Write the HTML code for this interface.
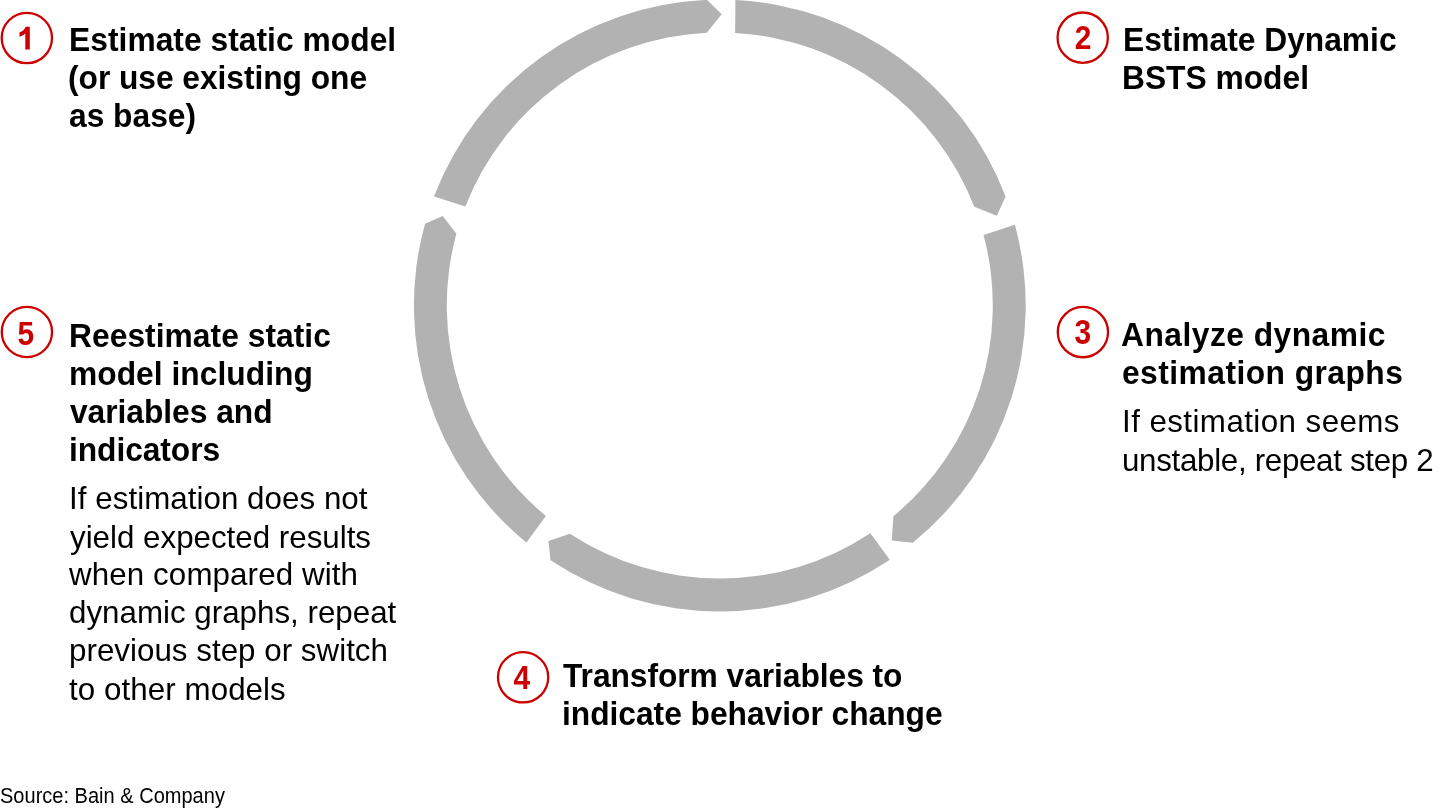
<!DOCTYPE html>
<html><head><meta charset="utf-8"><style>
html,body{margin:0;padding:0;background:#fff;}
body{width:1440px;height:810px;position:relative;overflow:hidden;font-family:"Liberation Sans",sans-serif;color:#000;}
svg{position:absolute;left:0;top:0;will-change:transform;}
.l{position:absolute;line-height:40px;white-space:nowrap;will-change:transform;}
</style></head><body>
<svg width="1440" height="810" viewBox="0 0 1440 810">
<g fill="#B2B2B2">
<path d="M735.37,-0.00 A305.9,305.9 0 0 1 1005.62,196.51 L996.83,215.76 L974.28,206.66 A273.0,273.0 0 0 0 735.16,32.93 Z"/>
<path d="M1014.87,224.84 A305.9,305.9 0 0 1 912.82,542.81 L891.78,540.49 L893.36,516.23 A273.0,273.0 0 0 0 983.54,234.99 Z"/>
<path d="M889.81,559.80 A305.9,305.9 0 0 1 550.54,560.30 L548.43,540.94 L569.92,533.68 A273.0,273.0 0 0 0 870.36,533.23 Z"/>
<path d="M526.47,542.56 A305.9,305.9 0 0 1 425.05,223.65 L442.70,216.00 L456.39,233.77 A273.0,273.0 0 0 0 545.86,515.92 Z"/>
<path d="M433.99,196.48 A305.9,305.9 0 0 1 706.97,-0.13 L721.68,14.31 L706.76,32.81 A273.0,273.0 0 0 0 465.34,206.60 Z"/>
</g>
<g font-family="Liberation Sans" font-weight="bold" font-size="32.5" fill="#CC0000">
<circle cx="26.85" cy="38.05" r="25.15" fill="none" stroke="#CC0000" stroke-width="2.3"/><path fill="#CC0000" d="M25.5,26.8 L29.8,26.8 L29.8,49.5 L25.3,49.5 L25.3,33.4 Q22.8,35.6 19.5,36.8 L19.5,32.6 Q21.8,31.7 23.6,30.0 Q25.0,28.6 25.5,26.8 Z"/>
<circle cx="1082.7" cy="37.65" r="25.15" fill="none" stroke="#CC0000" stroke-width="2.3"/><text transform="translate(1083.0,48.6) scale(0.9200,1)" font-size="32.5" text-anchor="middle" x="0" y="0">2</text>
<circle cx="1082.9" cy="332.1" r="25.15" fill="none" stroke="#CC0000" stroke-width="2.3"/><text transform="translate(1082.9,344.3) scale(0.8667,1)" font-size="34.5" text-anchor="middle" x="0" y="0">3</text>
<circle cx="523.1" cy="677.3" r="25.15" fill="none" stroke="#CC0000" stroke-width="2.3"/><text transform="translate(521.8,689.1) scale(0.9200,1)" font-size="32.5" text-anchor="middle" x="0" y="0">4</text>
<circle cx="26.9" cy="332.0" r="25.15" fill="none" stroke="#CC0000" stroke-width="2.3"/><text transform="translate(25.7,345.1) scale(0.9200,1)" font-size="32.5" text-anchor="middle" x="0" y="0">5</text>
</g>
</svg>
<div class="l" style="left:69.16px;top:19.70px;font-size:31.75px;font-weight:bold;letter-spacing:0.037px;transform:scaleY(1.04);transform-origin:0 19.9px;">Estimate static model</div>
<div class="l" style="left:68.44px;top:57.60px;font-size:31.75px;font-weight:bold;letter-spacing:-0.044px;transform:scaleY(1.04);transform-origin:0 19.9px;">(or use existing one</div>
<div class="l" style="left:69.04px;top:95.80px;font-size:31.75px;font-weight:bold;letter-spacing:-0.011px;transform:scaleY(1.04);transform-origin:0 19.9px;">as base)</div>
<div class="l" style="left:1122.52px;top:19.70px;font-size:31.75px;font-weight:bold;letter-spacing:0.003px;transform:scaleY(1.04);transform-origin:0 19.9px;">Estimate Dynamic</div>
<div class="l" style="left:1122.48px;top:57.70px;font-size:31.75px;font-weight:bold;letter-spacing:-0.003px;transform:scaleY(1.04);transform-origin:0 19.9px;">BSTS model</div>
<div class="l" style="left:1121.45px;top:315.00px;font-size:31.75px;font-weight:bold;letter-spacing:0.485px;transform:scaleY(1.04);transform-origin:0 19.9px;">Analyze dynamic</div>
<div class="l" style="left:1121.88px;top:353.10px;font-size:31.75px;font-weight:bold;letter-spacing:0.463px;transform:scaleY(1.04);transform-origin:0 19.9px;">estimation graphs</div>
<div class="l" style="left:1122.11px;top:402.30px;font-size:31.3px;font-weight:normal;letter-spacing:0.440px;transform:scaleY(1.02);transform-origin:0 19.3px;">If estimation seems</div>
<div class="l" style="left:1122.47px;top:440.60px;font-size:31.3px;font-weight:normal;letter-spacing:-0.304px;transform:scaleY(1.02);transform-origin:0 19.3px;">unstable, repeat step 2</div>
<div class="l" style="left:563.33px;top:655.60px;font-size:31.75px;font-weight:bold;letter-spacing:-0.053px;transform:scaleY(1.04);transform-origin:0 19.9px;">Transform variables to</div>
<div class="l" style="left:562.43px;top:693.70px;font-size:31.75px;font-weight:bold;letter-spacing:-0.023px;transform:scaleY(1.04);transform-origin:0 19.9px;">indicate behavior change</div>
<div class="l" style="left:68.50px;top:315.60px;font-size:31.75px;font-weight:bold;letter-spacing:0.045px;transform:scaleY(1.04);transform-origin:0 19.9px;">Reestimate static</div>
<div class="l" style="left:68.56px;top:353.70px;font-size:31.75px;font-weight:bold;letter-spacing:0.030px;transform:scaleY(1.04);transform-origin:0 19.9px;">model including</div>
<div class="l" style="left:69.76px;top:391.70px;font-size:31.75px;font-weight:bold;letter-spacing:-0.035px;transform:scaleY(1.04);transform-origin:0 19.9px;">variables and</div>
<div class="l" style="left:69.11px;top:429.80px;font-size:31.75px;font-weight:bold;letter-spacing:-0.067px;transform:scaleY(1.04);transform-origin:0 19.9px;">indicators</div>
<div class="l" style="left:68.98px;top:479.10px;font-size:31.3px;font-weight:normal;letter-spacing:0.049px;transform:scaleY(1.02);transform-origin:0 19.3px;">If estimation does not</div>
<div class="l" style="left:69.52px;top:517.80px;font-size:31.3px;font-weight:normal;letter-spacing:0.002px;transform:scaleY(1.02);transform-origin:0 19.3px;">yield expected results</div>
<div class="l" style="left:69.40px;top:555.20px;font-size:31.3px;font-weight:normal;letter-spacing:0.116px;transform:scaleY(1.02);transform-origin:0 19.3px;">when compared with</div>
<div class="l" style="left:69.04px;top:593.40px;font-size:31.3px;font-weight:normal;letter-spacing:0.012px;transform:scaleY(1.02);transform-origin:0 19.3px;">dynamic graphs, repeat</div>
<div class="l" style="left:68.81px;top:631.30px;font-size:31.3px;font-weight:normal;letter-spacing:0.029px;transform:scaleY(1.02);transform-origin:0 19.3px;">previous step or switch</div>
<div class="l" style="left:69.24px;top:670.20px;font-size:31.3px;font-weight:normal;letter-spacing:0.075px;transform:scaleY(1.02);transform-origin:0 19.3px;">to other models</div>
<div class="l" style="left:-0.33px;top:775.80px;font-size:20px;font-weight:normal;letter-spacing:0.015px;transform:scaleY(1.06);transform-origin:0 27.1px;">Source: Bain &amp; Company</div>
</body></html>
